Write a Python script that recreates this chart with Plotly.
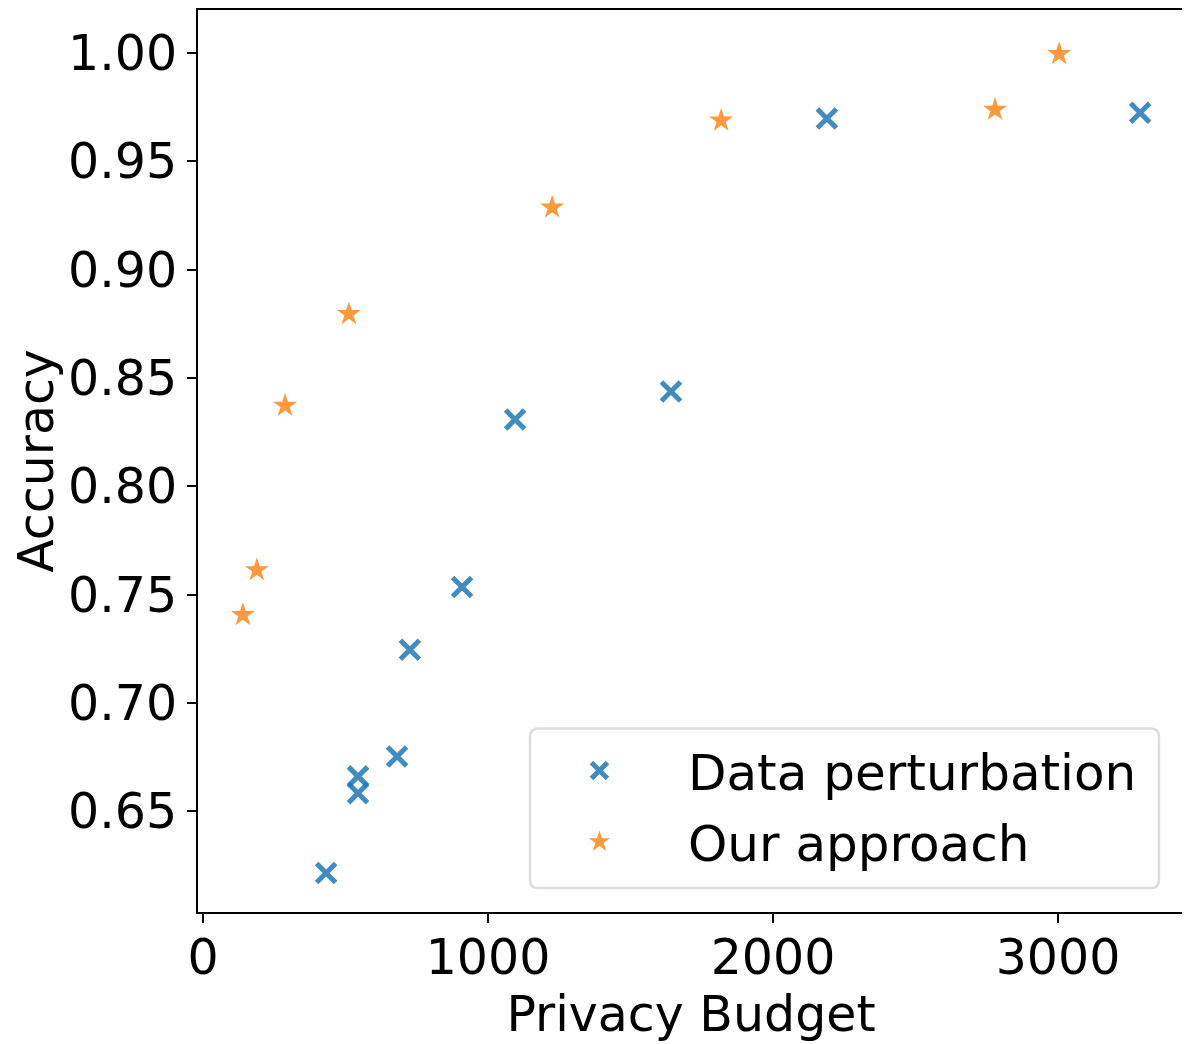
import plotly.graph_objects as go

# Data perturbation series
dp_budget = [432, 544, 544, 681, 726, 909, 1095, 1642, 2189, 3288]
dp_acc = [0.6215, 0.6661, 0.6583, 0.6753, 0.7245, 0.7535, 0.8308, 0.8437, 0.9697, 0.9724]

# Our approach series
oa_budget = [140, 189, 288, 512, 1225, 1818, 2779, 3004]
oa_acc = [0.7406, 0.7613, 0.8372, 0.8795, 0.9287, 0.9688, 0.9738, 0.9995]

x_ticks = [0, 1000, 2000, 3000]
y_ticks = [0.65, 0.70, 0.75, 0.80, 0.85, 0.90, 0.95, 1.00]

FONT = "DejaVu Sans"
FS = 49
BLUE = "rgba(31,119,180,0.85)"
ORANGE = "rgba(255,127,14,0.8)"

fig = go.Figure()
fig.add_trace(go.Scatter(
    x=dp_budget, y=dp_acc, mode="markers", name="Data perturbation",
    legendgroup="a",
    marker=dict(symbol="x-thin", size=19, color=BLUE,
                line=dict(color=BLUE, width=5)),
))
fig.add_trace(go.Scatter(
    x=oa_budget, y=oa_acc, mode="markers", name="Our approach",
    legendgroup="b",
    marker=dict(symbol="star", size=18, color=ORANGE, line=dict(width=0)),
))

axis_common = dict(
    showline=True, linecolor="black", linewidth=2, mirror=True,
    ticks="outside", ticklen=9, tickwidth=2, tickcolor="black",
    showgrid=False, zeroline=False,
    tickfont=dict(family=FONT, size=FS, color="black"),
)

# rounded legend frame (paper coordinates)
lx0, lx1, ly0, ly1 = 0.3367, 0.9746, 0.0265, 0.2033
rx, ry = 0.0085, 0.0093
frame_path = (
    f"M {lx0+rx},{ly1} L {lx1-rx},{ly1} Q {lx1},{ly1} {lx1},{ly1-ry} "
    f"L {lx1},{ly0+ry} Q {lx1},{ly0} {lx1-rx},{ly0} "
    f"L {lx0+rx},{ly0} Q {lx0},{ly0} {lx0},{ly0+ry} "
    f"L {lx0},{ly1-ry} Q {lx0},{ly1} {lx0+rx},{ly1} Z"
)

fig.update_layout(
    width=1182, height=1036,
    margin=dict(l=190, r=6, t=0, b=132),
    paper_bgcolor="white", plot_bgcolor="white",
    font=dict(family=FONT, size=FS, color="black"),
    xaxis=dict(range=[-17.5, 3442], tickvals=x_ticks,
               ticktext=[str(v) for v in x_ticks],
               title=dict(text="Privacy Budget", font=dict(family=FONT, size=FS), standoff=6),
               ticklabelstandoff=-8,
               **axis_common),
    yaxis=dict(range=[0.6035, 1.0198], tickvals=y_ticks,
               ticktext=[f"{v:.2f}" for v in y_ticks],
               title=dict(text="Accuracy", font=dict(family=FONT, size=FS), standoff=16),
               **axis_common),
    shapes=[dict(type="path", xref="paper", yref="paper", path=frame_path,
                 line=dict(color="#dddddd", width=2.5),
                 fillcolor="rgba(255,255,255,0.8)", layer="below")],
    legend=dict(
        x=0.3174, y=0.2, xanchor="left", yanchor="top",
        bgcolor="rgba(0,0,0,0)", borderwidth=0,
        font=dict(family=FONT, size=50, color="black"),
        itemwidth=167, tracegroupgap=3,
    ),
    showlegend=True,
)

fig.write_html("out.html")
